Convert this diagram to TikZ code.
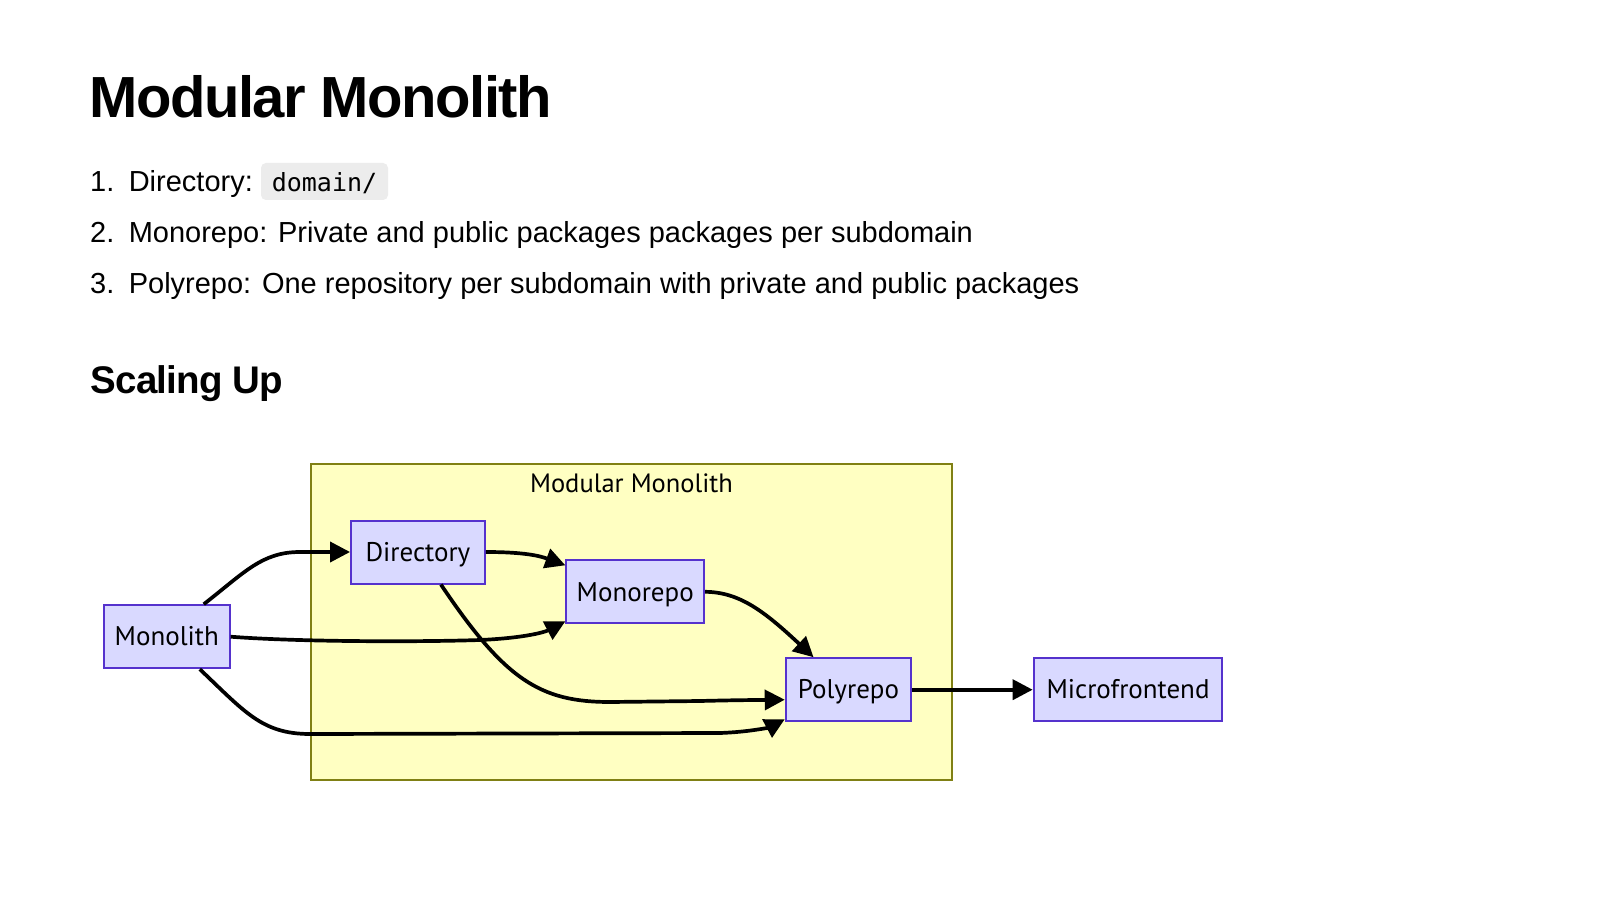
\documentclass[tikz,border=0pt]{standalone}
\usepackage{fontspec}
\setmainfont{Liberation Sans}
\newfontfamily\nodefont{PT Sans}
\newfontfamily\codefont{DejaVu Sans Mono}
\usetikzlibrary{arrows.meta}
\definecolor{nodefill}{RGB}{217,217,255}
\definecolor{nodeborder}{RGB}{85,50,205}
\definecolor{clusterfill}{RGB}{255,255,194}
\definecolor{clusterborder}{RGB}{128,128,20}
\definecolor{codebg}{RGB}{236,236,236}
\begin{document}
\begin{tikzpicture}[x=1pt,y=-1pt,
  box/.style={draw=nodeborder,fill=nodefill,line width=2pt,minimum height=63pt,inner sep=0pt,text height=18.5pt,text depth=0pt,font=\nodefont\fontsize{27}{32}\selectfont},
  conn/.style={line width=3.7pt,-{Triangle[length=20pt,width=20pt]}},
  txt/.style={anchor=base west,inner sep=0pt}]
\useasboundingbox (0,0) rectangle (1600,901);
\fill[white] (0,0) rectangle (1600,901);
% title
\node[txt,font=\fontsize{58}{62}\selectfont\bfseries\addfontfeature{LetterSpace=-2.5}] (title) at (89,118) {Modular Monolith};
% list
\node[txt,font=\fontsize{29}{34}\selectfont] (n1) at (90,192) {1.};
\node[txt,font=\fontsize{29}{34}\selectfont] (t1) at (128.6,192) {Directory:};
\fill[codebg,rounded corners=5pt] (261,163) rectangle (388,200);
\node[anchor=base,inner sep=0pt,font=\codefont\fontsize{25}{28}\selectfont] (code) at (324.5,192) {domain/};
\node[txt,font=\fontsize{29}{34}\selectfont] (n2) at (90,243) {2.};
\node[txt,font=\fontsize{29}{34}\selectfont] (t2) at (128.6,243) {Monorepo: Private and public packages packages per subdomain};
\node[txt,font=\fontsize{29}{34}\selectfont] (n3) at (90,294) {3.};
\node[txt,font=\fontsize{29}{34}\selectfont] (t3) at (128.6,294) {Polyrepo: One repository per subdomain with private and public packages};
% subtitle
\node[txt,font=\fontsize{38.5}{42}\selectfont\bfseries\addfontfeature{LetterSpace=-2}] (sub) at (90.5,393) {Scaling Up};
% cluster
\draw[clusterborder,fill=clusterfill,line width=2pt] (311,464) rectangle (952,779.6);
\node[font=\nodefont\fontsize{26.5}{30}\selectfont,inner sep=0pt,text height=18.2pt,text depth=0pt] (clabel) at (631.5,483) {Modular Monolith};
% nodes
\node[box,minimum width=125.6pt] (mono) at (166.8,636.7) {Monolith};
\node[box,minimum width=133.7pt] (dir) at (417.9,552) {Directory};
\node[box,minimum width=137.7pt] (repo) at (635.2,591.8) {Monorepo};
\node[box,minimum width=125.5pt] (poly) at (848.5,689.7) {Polyrepo};
\node[box,minimum width=188.7pt] (micro) at (1128,689.7) {Microfrontend};
% connectors
\draw[conn] ([xshift=37pt]mono.north) .. controls (245,572) and (262,552) .. (300,552) -- (dir.west);
\draw[conn] (dir.east) .. controls (525,552) and (540,556) .. ([yshift=-6pt]repo.north west);
\draw[conn] (mono.east) .. controls (300,642) and (420,642) .. (480,640) .. controls (525,638) and (545,632) .. ([yshift=3pt]repo.south west);
\draw[conn] ([xshift=23pt]dir.south) .. controls (505,680) and (540,702) .. (610,702) -- (700,701) .. controls (740,700) and (760,700) .. ([yshift=-10pt]poly.west);
\draw[conn] ([xshift=33pt]mono.south) .. controls (245,712) and (262,734) .. (310,734) -- (720,733) .. controls (750,732) and (770,727) .. ([yshift=3pt]poly.south west);
\draw[conn] (repo.east) .. controls (740,592) and (765,612) .. ([xshift=-35pt]poly.north);
\draw[conn] (poly.east) -- (micro.west);
\end{tikzpicture}
\end{document}
